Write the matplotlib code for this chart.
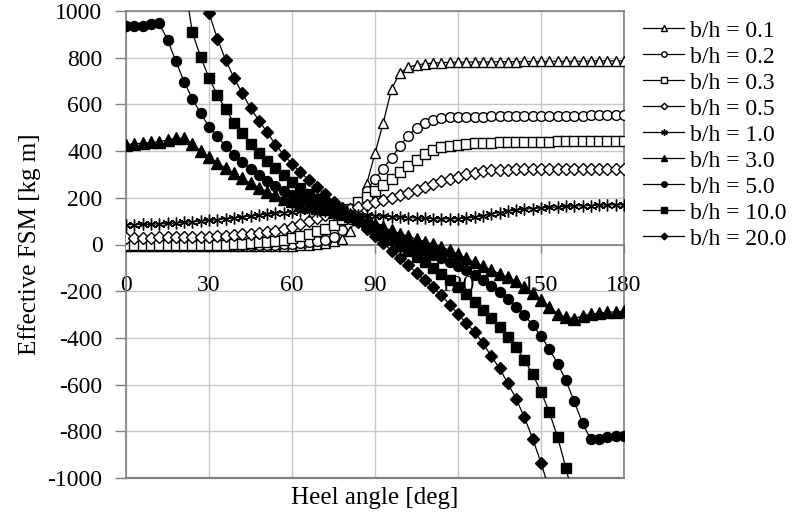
import numpy as np
import matplotlib.pyplot as plt

plt.rcParams['font.family'] = ['Liberation Serif', 'DejaVu Serif']
plt.rcParams['axes.unicode_minus'] = False

# heel angle, every 3 deg
angle = list(range(0, 181, 3))

fsm_01 = [-8, -8, -8, -8, -8, -8, -8, -8, -8, -8, -8, -8, -8, -8, -8, -8, -7, -7, -6, -6,
          -5, -3, 0, 4, 8, 13, 22, 56, 150, 260, 390, 522, 667, 734, 759, 769, 774, 777, 779, 780, 781,
          781, 782, 782, 782, 783, 783, 783, 784, 784, 784, 784, 785, 785, 785, 785, 786, 786, 786, 786, 786]
fsm_02 = [-4, -4, -4, -4, -4, -4, -4, -4, -4, -4, -4, -4, -4, -4, -4, -4,
          -3, -2, 0, 2, 4, 7, 11, 15, 20, 32, 60, 110, 175, 231, 281, 324, 372, 422, 465, 500, 520, 533, 540, 544, 546,
          547, 548, 548, 549, 549, 550, 550, 550, 551, 551, 551, 552, 552, 552, 552, 553, 553, 553, 553, 553]
fsm_03 = [-2, -2, -2, -2, -2, -2, -2, -2, -2, -2, -2, -2,
          0, 2, 4, 6, 9, 12, 16, 21, 28, 38, 47, 56, 65, 82, 110, 150, 183, 205, 231, 256, 281, 310, 336, 363,
          388, 405, 416, 423, 428, 431,
          433, 435, 436, 437, 438, 439, 440, 440, 441, 441, 442, 442, 443, 443, 444, 444, 444, 445, 445]
fsm_05 = [29, 29, 29, 29, 30, 30, 30, 31, 32, 33, 34, 36, 38, 40, 43, 46, 49, 53, 58, 65,
          74, 88, 102, 115, 125, 134, 142, 150, 160, 171, 181, 190, 200, 210, 221, 234, 248, 260, 271, 281,
          291, 300, 307, 313, 317, 320,
          321, 322, 322, 323, 323, 323, 324, 324, 324, 324, 324, 324, 324, 324, 324]
fsm_10 = [85, 85, 86, 87, 88, 90, 92, 95, 97, 100, 103, 106, 110, 114, 118, 122, 126, 130, 134, 137,
          140, 142, 143, 143, 142, 140, 136, 131, 127, 125, 123, 121, 119, 117, 115, 113, 112, 111, 110, 110,
          111, 113, 117, 123, 130, 137, 143, 148, 151, 154, 157, 159, 161, 163, 165, 166, 167, 168, 169, 170, 170]
fsm_30 = [428, 431, 434, 437, 440, 448, 455, 455, 430, 400, 374, 350, 327, 305, 283, 262, 244, 226, 211, 197,
          185, 175, 166, 158, 150, 141, 132, 122, 111, 99, 86, 73, 60, 47, 35, 23, 12, 1, -10, -25,
          -42, -59, -76, -93, -109, -125, -141, -158, -182, -209, -238, -268, -296, -312, -318, -305, -298, -294, -291, -288, -286]
fsm_50 = [934, 934, 937, 945, 948, 877, 785, 698, 622, 562, 505, 463, 421, 385, 354, 324, 297, 273, 251, 231,
          213, 198, 184, 170, 157, 145, 133, 119, 103, 86, 69, 52, 35, 18, 2, -13, -28, -43, -57, -74,
          -92, -111, -131, -153, -176, -203, -234, -266, -303, -345, -393, -447, -510, -582, -672, -765, -835, -832, -826, -822, -818]
fsm_100 = [1870, 1860, 1820, 1700, 1560, 1420, 1270, 1130, 908, 802, 714, 640, 580, 522, 477, 431, 391, 357, 327, 298,
           268, 240, 215, 196, 178, 161, 145, 127, 108, 87, 65, 42, 19, -5, -29, -52, -76, -100, -125, -152,
           -180, -212, -245, -280, -315, -352, -395, -440, -495, -556, -630, -718, -825, -957, -1100, -1260, -1420, -1560, -1650, -1640, -1635]
fsm_200 = [2400, 2390, 2350, 2200, 2000, 1800, 1600, 1420, 1250, 1090, 991, 882, 791, 714, 648, 585, 531, 481, 428, 385,
           345, 310, 277, 245, 215, 183, 155, 128, 98, 67, 36, 5, -26, -57, -89, -121, -154, -183, -218, -257,
           -297, -337, -375, -422, -478, -530, -594, -661, -740, -832, -935, -1050, -1180, -1320, -1480, -1650, -1850, -2050, -2250, -2300, -2310]

series = [fsm_01, fsm_02, fsm_03, fsm_05, fsm_10, fsm_30, fsm_50, fsm_100, fsm_200]
labels = ['b/h = 0.1', 'b/h = 0.2', 'b/h = 0.3', 'b/h = 0.5', 'b/h = 1.0',
          'b/h = 3.0', 'b/h = 5.0', 'b/h = 10.0', 'b/h = 20.0']
markers = ['^', 'o', 's', 'D', (6, 2, 0), '^', 'o', 's', 'D']
faces = ['white', 'white', 'white', 'white', 'black', 'black', 'black', 'black', 'black']
sizes = [7.5, 7, 7, 6, 8.5, 8, 7.2, 7, 6.2]

fig = plt.figure(figsize=(7.92, 5.19), dpi=100)
ax = fig.add_axes([126/792, 1 - 478/519, 498/792, 467/519])

for y, lab, mk, fc, ms in zip(series, labels, markers, faces, sizes):
    ax.plot(angle, y, color='black', lw=0.9, marker=mk, mfc=fc, mec='black',
            mew=1.0, ms=ms, label=lab)

ax.set_xlim(0, 180)
ax.set_ylim(-1000, 1000)
ax.set_xticks(np.arange(0, 181, 30))
ax.set_yticks(np.arange(-1000, 1001, 200))
ax.set_axisbelow(True)
ax.grid(True, color='#c8c8c8', lw=1.0)

gray = '#808080'
for s in ['top', 'right', 'left']:
    ax.spines[s].set_color(gray)
    ax.spines[s].set_linewidth(1.2)
    ax.spines[s].set_zorder(1)
ax.spines['bottom'].set_position(('data', 0))
ax.spines['bottom'].set_color(gray)
ax.spines['bottom'].set_linewidth(1.2)
ax.spines['bottom'].set_zorder(1)
ax.axhline(-1000, color=gray, lw=1.6, clip_on=False, zorder=1)

ax.tick_params(axis='x', direction='out', length=6, width=1, color=gray,
               labelsize=17, pad=16)
ax.tick_params(axis='y', direction='out', length=8, width=1, color=gray,
               labelsize=17, pad=9)

ax.set_xlabel('Heel angle [deg]', fontsize=18)
ax.xaxis.set_label_coords(0.5, -0.02)
ax.set_ylabel('Effective FSM [kg m]', fontsize=18)
ax.yaxis.set_label_coords(-0.17, 0.5)

ax.legend(loc='upper left', bbox_to_anchor=(643/792, 1 - 20/519),
          bbox_transform=fig.transFigure, frameon=False, fontsize=17,
          borderpad=0, borderaxespad=0, handlelength=1.75, handletextpad=0.25,
          labelspacing=0.19, markerscale=0.55)

plt.savefig('out.png', dpi=100)
